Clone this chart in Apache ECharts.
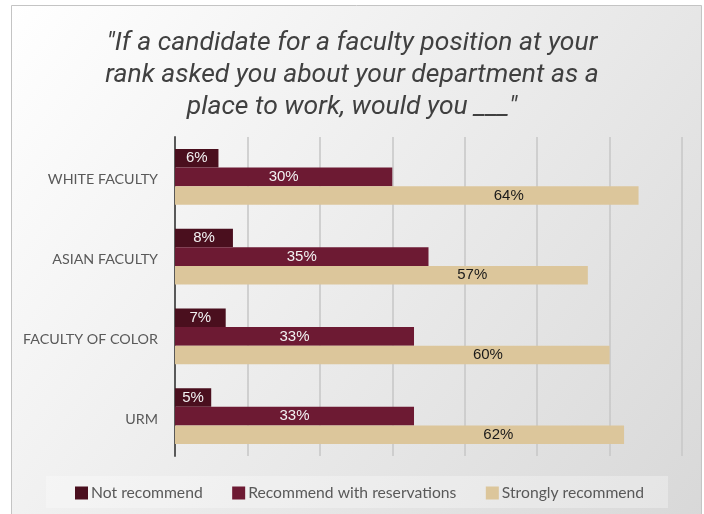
<!DOCTYPE html>
<html>
<head>
<meta charset="utf-8">
<script src="https://cdn.jsdelivr.net/npm/echarts@6/dist/echarts.min.js"></script>
<style>
html,body{margin:0;padding:0;background:#ffffff;}
#main{width:704px;height:514px;}
</style>
</head>
<body>
<div id="main"></div>
<script>
const titleText = '"If a candidate for a faculty position at your\nrank asked you about your department as a\nplace to work, would you ___"';
const categories = ['WHITE FACULTY', 'ASIAN FACULTY', 'FACULTY OF COLOR', 'URM'];
const seriesNames = ['Not recommend', 'Recommend with reservations', 'Strongly recommend'];
const notRecommend = [6, 8, 7, 5];
const withReservations = [30, 35, 33, 33];
const stronglyRecommend = [64, 57, 60, 62];
const xTicks = [0, 10, 20, 30, 40, 50, 60, 70];

const colors = ['#4a0f1e', '#6d1a33', '#dcc69b'];
const chart = echarts.init(document.getElementById('main'), null, {renderer: 'canvas'});

function makeSeries(name, data, color, labelColor, pos) {
  return {
    name: name,
    type: 'bar',
    data: data,
    barWidth: 18.6,
    barGap: '0%',
    itemStyle: {color: color},
    label: {
      show: true,
      position: pos,
      align: 'center',
      verticalAlign: 'middle',
      formatter: '{c}%',
      color: labelColor,
      fontFamily: 'Liberation Sans, Arial, sans-serif',
      fontSize: 15
    },
    emphasis: {disabled: true}
  };
}

chart.setOption({
  animation: false,
  backgroundColor: 'transparent',
  graphic: [
    {
      type: 'rect', z: -10, silent: true,
      shape: {x: 11.5, y: 5.5, width: 690, height: 520},
      style: {
        fill: {type: 'linear', x: 0, y: 0, x2: 1, y2: 1,
          colorStops: [{offset: 0, color: '#ffffff'}, {offset: 1, color: '#d8d8d8'}]},
        stroke: '#c4c4c4', lineWidth: 1
      }
    },
    {
      type: 'rect', z: -9, silent: true,
      shape: {x: 46, y: 476, width: 622, height: 32},
      style: {fill: 'rgba(255,255,255,0.3)'}
    }
  ],
  title: {
    text: titleText,
    left: 347,
    textAlign: 'center',
    top: 22,
    textStyle: {
      fontFamily: 'Roboto, sans-serif',
      fontStyle: 'italic',
      fontWeight: 'normal',
      fontSize: 26.5,
      lineHeight: 32,
      color: '#404040'
    }
  },
  legend: {
    data: seriesNames,
    left: 75,
    top: 485,
    padding: 0,
    icon: 'rect',
    itemWidth: 13,
    itemHeight: 13,
    itemGap: 29.5,
    textStyle: {fontFamily: 'Lato, sans-serif', fontSize: 15.7, lineHeight: 13, color: '#595959', padding: [0, 0, 0, -2]}
  },
  grid: {left: 175, top: 137, width: 507, height: 319, containLabel: false},
  xAxis: {
    type: 'value',
    min: 0, max: 70, interval: 10,
    axisLabel: {show: false},
    axisLine: {show: false},
    axisTick: {show: false},
    splitLine: {show: true, lineStyle: {color: '#c8c8c8', width: 1.6}}
  },
  yAxis: {
    type: 'category',
    data: categories,
    inverse: true,
    axisLine: {show: true, lineStyle: {color: '#595959', width: 2}},
    axisTick: {show: false},
    axisLabel: {
      margin: 17,
      formatter: function (v) { return '{c|' + v + '}'; },
      rich: {
        c: {
          fontFamily: 'Lato, sans-serif',
          fontSize: 14.3,
          color: '#595959',
          padding: [6, 0, 0, 0]
        }
      }
    }
  },
  series: [
    makeSeries(seriesNames[0], notRecommend, colors[0], '#f2f2f2', 'inside'),
    makeSeries(seriesNames[1], withReservations, colors[1], '#f2f2f2', 'inside'),
    makeSeries(seriesNames[2], stronglyRecommend, colors[2], '#1a1a1a', ['72%', '50%'])
  ]
});
</script>
</body>
</html>
